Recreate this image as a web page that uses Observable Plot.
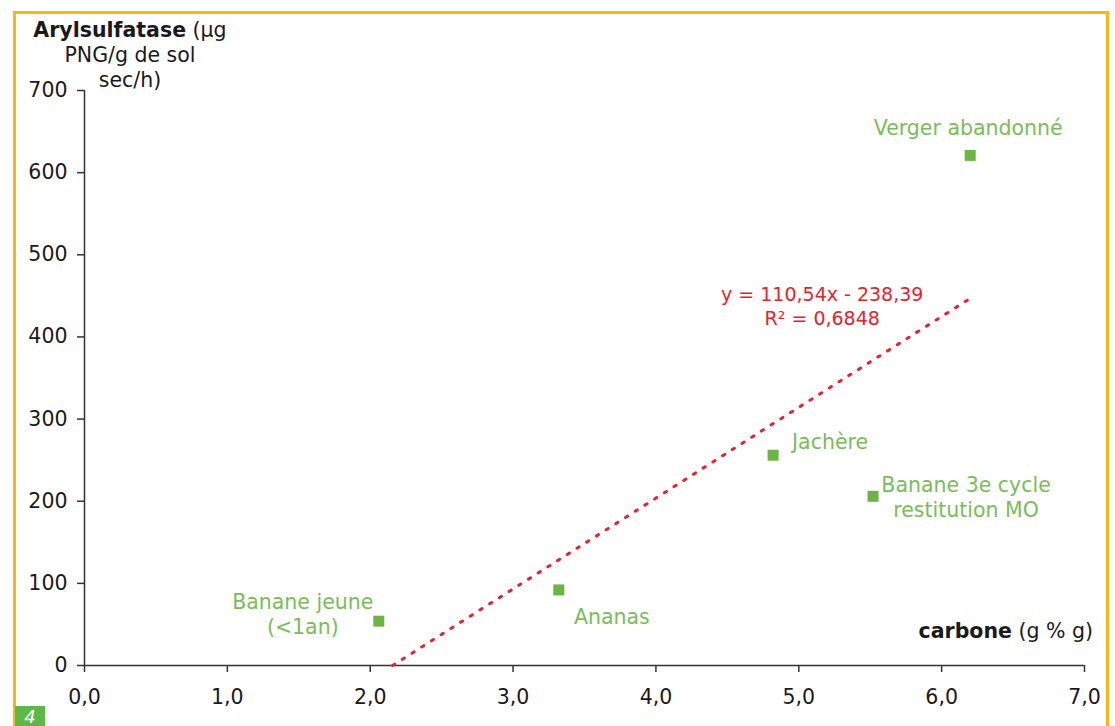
<!DOCTYPE html>
<html>
<head>
<meta charset="utf-8">
<script src="https://cdn.jsdelivr.net/npm/d3@7"></script>
<script src="https://cdn.jsdelivr.net/npm/@observablehq/plot@0.6"></script>
<style>
  html, body { margin: 0; padding: 0; background: #fff; }
  #wrap { position: relative; width: 1115px; height: 726px; overflow: hidden; font-family: "DejaVu Sans", Verdana, sans-serif; }
  #frame { position: absolute; left: 13px; top: 11px; width: 1096px; height: 760px; border: 3px solid #fab516; box-sizing: border-box; }
  #ytitle { position: absolute; left: 10px; top: 18px; width: 240px; text-align: center; font-size: 20.5px; line-height: 25px; color: #1a1a1a; }
  #xtitle { position: absolute; right: 22px; top: 619px; text-align: right; font-size: 20.5px; line-height: 24px; color: #1a1a1a; white-space: nowrap; }
  #badge { position: absolute; left: 15px; top: 706px; width: 30px; height: 20px; background: #5cb947; color: #fff; font-family: "DejaVu Sans", sans-serif; font-style: italic; font-size: 18px; line-height: 21px; text-align: center; }
  svg { position: absolute; left: 0; top: 0; }
</style>
</head>
<body>
<div id="wrap">
  <div id="chart"></div>
  <div id="frame"></div>
  <div id="ytitle"><b>Arylsulfatase</b> (µg<br>PNG/g de sol<br>sec/h)</div>
  <div id="xtitle"><b>carbone</b> (g % g)</div>
  <div id="badge">4</div>
</div>
<script>
// ---- data ----
const sites = ["Banane jeune\n(<1an)", "Ananas", "Jachère", "Banane 3e cycle\nrestitution MO", "Verger abandonné"];
const carbone = [2.06, 3.32, 4.82, 5.52, 6.20];
const arylsulfatase = [54, 92, 256, 206, 621];
const slope = 110.54;
const intercept = -238.39;
const r2 = 0.6848;
const xTicks = [0, 1, 2, 3, 4, 5, 6, 7];
const yTicks = [0, 100, 200, 300, 400, 500, 600, 700];

// ---- label layout (style only) ----
const labelLayout = [
  {dx: -76, dy: 13, anchor: "middle"},
  {dx: 53, dy: 34, anchor: "middle"},
  {dx: 19, dy: -6, anchor: "start"},
  {dx: 93, dy: 21, anchor: "middle"},
  {dx: -2, dy: -20, anchor: "middle"}
];

const data = sites.map((s, i) => ({site: s, x: carbone[i], y: arylsulfatase[i], ...labelLayout[i]}));
const fmt = v => d3.format(".1f")(v).replace(".", ",");
const xStart = -intercept / slope;
const xEnd = d3.max(carbone);
const fitLine = [xStart, xEnd].map(x => ({x, y: slope * x + intercept}));
const eq = [{x: xEnd, y: slope * xEnd + intercept,
  text: `y = ${String(slope).replace(".", ",")}x - ${String(-intercept).replace(".", ",")}\nR² = ${String(r2).replace(".", ",")}`}];

const green = "#6cb444";
const labelGreen = "#7abd58";
const red = "#e4242c";
const axisColor = "#333";
const fs = 20.5;

const chart = Plot.plot({
  width: 1115,
  height: 726,
  marginLeft: 84,
  marginRight: 31,
  marginTop: 90,
  marginBottom: 61,
  style: {fontFamily: "DejaVu Sans, Verdana, sans-serif", fontSize: fs + "px", color: "#1a1a1a", background: "transparent"},
  x: {domain: [0, 7]},
  y: {domain: [0, 700]},
  marks: [
    Plot.axisY({ticks: yTicks, tickSize: 7, tickPadding: 10, tickFormat: d => d, stroke: axisColor, strokeWidth: 1.5, fontSize: fs, label: null, fill: "#1a1a1a"}),
    Plot.axisX({ticks: xTicks, tickSize: 7, tickPadding: 17, tickFormat: fmt, stroke: axisColor, strokeWidth: 1.5, fontSize: fs, label: null, fill: "#1a1a1a"}),
    Plot.ruleX([0], {stroke: axisColor, strokeWidth: 1.5}),
    Plot.ruleY([0], {stroke: axisColor, strokeWidth: 1.5}),
    Plot.line(fitLine, {x: "x", y: "y", stroke: red, strokeWidth: 3, strokeDasharray: "2.5 9", strokeLinecap: "round"}),
    Plot.text(eq, {x: "x", y: "y", text: "text", fill: red, fontSize: 19, textAnchor: "middle", lineAnchor: "bottom", lineHeight: 1.3, dx: -148, dy: 27}),
    Plot.dot(data, {x: "x", y: "y", symbol: "square", r: 6.2, fill: green, stroke: "none"}),
    ...data.map(d => Plot.text([d], {x: "x", y: "y", text: "site", fill: labelGreen, fontSize: fs, textAnchor: d.anchor, lineAnchor: "bottom", lineHeight: 1.25, dx: d.dx, dy: d.dy}))
  ]
});
document.getElementById("chart").appendChild(chart);
</script>
</body>
</html>
